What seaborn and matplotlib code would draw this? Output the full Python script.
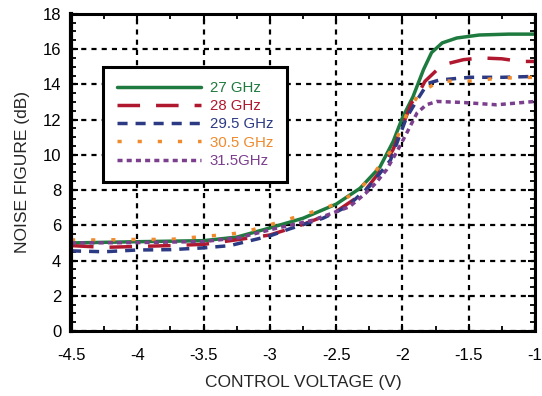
import numpy as np
import pandas as pd
import matplotlib
matplotlib.use("Agg")
import matplotlib.pyplot as plt
from matplotlib.ticker import MultipleLocator
import seaborn as sns

# --- data ---
x_27 = [-4.5, -4.0, -3.5, -3.25, -3.0, -2.75, -2.5, -2.32, -2.17, -2.07, -2.0,
        -1.92, -1.84, -1.78, -1.70, -1.59, -1.42, -1.2, -1.0]
y_27 = [5.0, 5.07, 5.13, 5.33, 5.85, 6.4, 7.2, 8.1, 9.3, 10.75, 12.1,
        13.3, 14.85, 15.8, 16.35, 16.63, 16.8, 16.85, 16.85]

x_28 = [-4.5, -4.25, -4.0, -3.75, -3.5, -3.23, -3.0, -2.75, -2.5, -2.3, -2.17,
        -2.07, -1.97, -1.93, -1.87, -1.83, -1.70, -1.54, -1.41, -1.25, -1.11, -1.0]
y_28 = [4.85, 4.75, 4.8, 4.85, 4.92, 5.2, 5.45, 6.05, 6.78, 7.8, 9.05,
        10.3, 12.2, 12.95, 13.6, 14.17, 15.1, 15.4, 15.5, 15.45, 15.3, 15.3]

x_295 = [-4.5, -4.25, -4.0, -3.75, -3.5, -3.3, -3.0, -2.85, -2.6, -2.42, -2.25,
         -2.09, -1.97, -1.89, -1.81, -1.72, -1.49, -1.25, -1.0]
y_295 = [4.55, 4.5, 4.6, 4.62, 4.72, 4.85, 5.4, 5.8, 6.4, 7.05, 8.2,
         9.7, 12.1, 13.1, 14.05, 14.25, 14.4, 14.4, 14.45]

x_305 = [-4.5, -4.25, -4.0, -3.75, -3.6, -3.3, -3.18, -3.05, -2.89, -2.75, -2.6,
         -2.47, -2.32, -2.2, -2.09, -2.02, -1.96, -1.87, -1.72, -1.58, -1.44, -1.29, -1.0]
y_305 = [5.17, 5.17, 5.2, 5.2, 5.3, 5.5, 5.64, 5.92, 6.27, 6.6, 6.93,
         7.32, 8.06, 9.1, 10.2, 11.3, 12.46, 13.5, 14.2, 14.17, 14.2, 14.35, 14.4]

x_315 = [-4.5, -4.0, -3.5, -3.23, -2.97, -2.67, -2.40, -2.28, -2.2, -2.12, -2.04,
         -1.97, -1.89, -1.82, -1.74, -1.54, -1.29, -1.0]
y_315 = [5.0, 5.02, 5.08, 5.3, 5.8, 6.3, 7.05, 7.8, 8.4, 9.15, 10.2,
         11.2, 12.37, 12.84, 13.03, 12.97, 12.84, 13.03]

labels = ['27 GHz', '28 GHz', '29.5 GHz', '30.5 GHz', '31.5GHz']
xs = [x_27, x_28, x_295, x_305, x_315]
ys = [y_27, y_28, y_295, y_305, y_315]

colors = ['#1e7a3e', '#b0182f', '#2c3a84', '#f08a2c', '#7b3f8e']
styles = ['-', (0, (6.5, 4.6)), (0, (2.9, 2.3)), (0, (1.2, 4.6)), (0, (1.45, 1.2))]

sns.set_style('white')
plt.rcParams['font.family'] = ['Liberation Sans', 'DejaVu Sans']

fig = plt.figure(figsize=(5.42, 3.96), dpi=100)
ax = fig.add_axes([0.131, 0.164, 0.856, 0.801])

for xv, yv, lab, c, ls in zip(xs, ys, labels, colors, styles):
    df = pd.DataFrame({'v': xv, 'nf': yv})
    sns.lineplot(data=df, x='v', y='nf', ax=ax, color=c, linestyle=ls,
                 linewidth=2.5, label=lab)

ax.set_xlim(-4.5, -1)
ax.set_ylim(0, 18)
ax.xaxis.set_major_locator(MultipleLocator(0.5))
ax.xaxis.set_minor_locator(MultipleLocator(0.25))
ax.yaxis.set_major_locator(MultipleLocator(2))
ax.yaxis.set_minor_locator(MultipleLocator(0.5))
ax.set_xticklabels([f'{t:g}' for t in ax.get_xticks()])

ax.grid(True, which='major', color='black', linestyle=(0, (2.3, 2.3)), linewidth=1.6)
ax.set_axisbelow(True)
ax.tick_params(which='both', direction='in', top=True, right=True, bottom=True, left=True,
               colors='black', labelsize=12)
ax.tick_params(which='major', length=5, width=1.5)
ax.tick_params(which='minor', length=3.5, width=1.3)
ax.tick_params(axis='x', which='major', pad=12)
ax.tick_params(axis='y', which='major', pad=7)
for side, sp in ax.spines.items():
    sp.set_color('black')
    sp.set_linewidth(2.2)
ax.spines['left'].set_linewidth(3)

ax.set_xlabel('CONTROL VOLTAGE (V)', fontsize=12.5, labelpad=9)
ax.set_ylabel('NOISE FIGURE (dB)', fontsize=12.5, labelpad=9)

leg = ax.legend(loc='upper left', bbox_to_anchor=(0.069, 0.833), fontsize=10.8,
                handlelength=5.6, labelspacing=0.28, borderpad=0.95,
                handletextpad=0.55, fancybox=False, framealpha=1,
                edgecolor='black', borderaxespad=0)
leg.get_frame().set_linewidth(2.2)
for txt, c in zip(leg.get_texts(), colors):
    txt.set_color(c)

fig.savefig('out.png', dpi=100)
